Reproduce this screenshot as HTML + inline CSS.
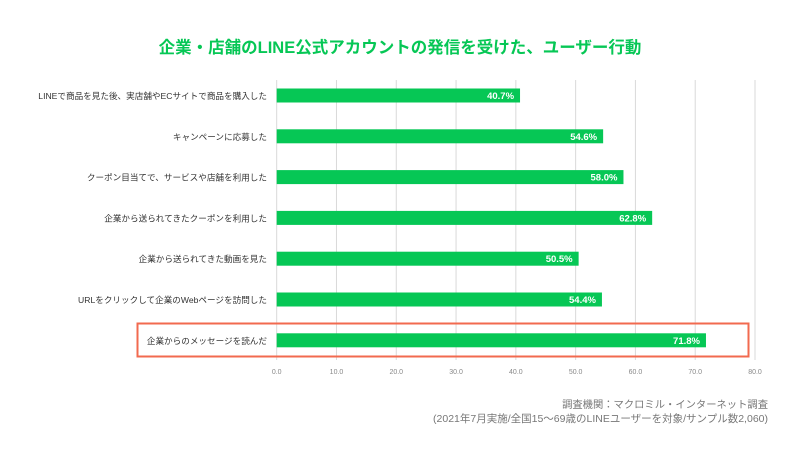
<!DOCTYPE html>
<html><head><meta charset="utf-8">
<style>
body{margin:0;background:#fff;font-family:"Liberation Sans","Noto Sans CJK JP",sans-serif;}
#wrap{position:relative;width:800px;height:450px;overflow:hidden;}
</style></head>
<body><div id="wrap">
<svg id="chart" width="800" height="450">
<text x="400" y="53" text-anchor="middle" font-size="16.5" font-weight="bold" fill="#06c755">企業・店舗のLINE公式アカウントの発信を受けた、ユーザー行動</text>
<g id="grid"></g><g id="bars"></g><g id="ticks"></g>
<rect x="137.5" y="323.5" width="611" height="33" fill="none" stroke="#f26a4f" stroke-width="2"/>
<text x="768" y="408" text-anchor="end" font-size="10.3" fill="#777">調査機関：マクロミル・インターネット調査</text>
<text x="768" y="422" text-anchor="end" font-size="10.5" fill="#777">(2021年7月実施/全国15～69歳のLINEユーザーを対象/サンプル数2,060)</text>
</svg></div>
<script>
const categories=["LINEで商品を見た後、実店舗やECサイトで商品を購入した","キャンペーンに応募した","クーポン目当てで、サービスや店舗を利用した","企業から送られてきたクーポンを利用した","企業から送られてきた動画を見た","URLをクリックして企業のWebページを訪問した","企業からのメッセージを読んだ"];
const values=[40.7,54.6,58.0,62.8,50.5,54.4,71.8];
const ticks=[0,10,20,30,40,50,60,70,80];
const NS="http://www.w3.org/2000/svg";
const x0=276.7,x1=755,vmax=80,yTop=80,step=40.8,bh=14;
const xs=v=>x0+(x1-x0)*v/vmax;
const yc=i=>95.5+step*i;
function mk(t,a,p){const e=document.createElementNS(NS,t);for(const k in a)e.setAttribute(k,a[k]);document.getElementById(p).appendChild(e);return e;}
ticks.forEach(t=>{
 const l=mk('line',{x1:xs(t),x2:xs(t),y1:yTop,y2:360,stroke:'#d9d9d9','stroke-width':1},'grid');
 
 
 const tx=mk('text',{x:xs(t),y:374,'text-anchor':'middle','font-size':7,fill:'#888'},'ticks');
 tx.textContent=t.toFixed(1);
 
 
});
values.forEach((v,i)=>{
 const r=mk('rect',{x:x0,y:yc(i)-bh/2,width:xs(v)-x0,height:bh,fill:'#06c755'},'bars');
 
 
 const vl=mk('text',{x:xs(v)-6,y:yc(i)+3.5,'text-anchor':'end','font-size':9.5,'font-weight':'bold',fill:'#fff'},'bars');
 vl.textContent=v.toFixed(1)+'%';
 
 
 const cl=mk('text',{x:267,y:yc(i)+3.5,'text-anchor':'end','font-size':8.6,fill:'#333'},'bars');
 cl.textContent=categories[i];
 
 
});
</script></body></html>
